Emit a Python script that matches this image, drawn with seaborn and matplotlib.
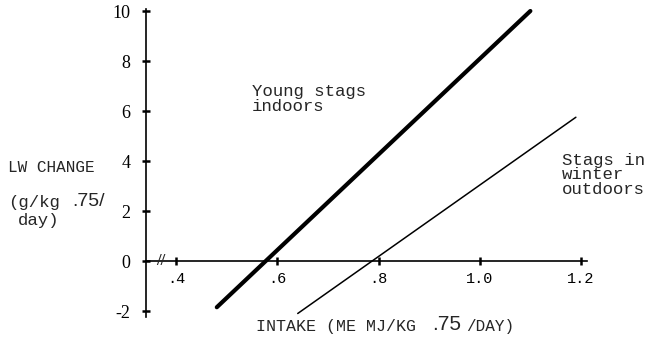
import matplotlib
matplotlib.use("Agg")
import matplotlib.pyplot as plt
import seaborn as sns
import pandas as pd

# line end points
young_intake = [0.48, 1.10]
young_lw = [-1.85, 10.0]
winter_intake = [0.64, 1.19]
winter_lw = [-2.1, 5.75]

x_ticks = [0.4, 0.6, 0.8, 1.0, 1.2]
x_tick_labels = ['.4', '.6', '.8', '1.0', '1.2']
y_ticks = [-2, 0, 2, 4, 6, 8, 10]

young = pd.DataFrame({'intake': young_intake, 'lw': young_lw})
winter = pd.DataFrame({'intake': winter_intake, 'lw': winter_lw})

sns.set_style('ticks')
plt.rcParams['font.family'] = ['Liberation Serif', 'DejaVu Serif']
MONO = ['Liberation Mono', 'DejaVu Sans Mono']
W, H = 646, 341


def px(x, y):
    # pixel position -> figure fraction
    return x / W, 1 - y / H


fig = plt.figure(figsize=(W / 100, H / 100), dpi=100)
ax = fig.add_axes([146 / W, 1 - 317 / H, 441 / W, 308 / H])

sns.lineplot(data=young, x='intake', y='lw', color='black', linewidth=3.0,
             solid_capstyle='round', ax=ax)
sns.lineplot(data=winter, x='intake', y='lw', color='black', linewidth=1.1, ax=ax)

ax.set_xlim(0.34, 1.212)
ax.set_ylim(-2.24, 10.08)
ax.spines['bottom'].set_position(('data', 0))
ax.spines['top'].set_visible(False)
ax.spines['right'].set_visible(False)
for s in ['left', 'bottom']:
    ax.spines[s].set_linewidth(1.2)
    ax.spines[s].set_color('black')

ax.set_xticks(x_ticks)
ax.set_xticklabels(x_tick_labels, fontfamily=MONO, fontsize=11)
ax.set_yticks(y_ticks)
ax.set_yticklabels([str(v) for v in y_ticks], fontsize=13)
ax.tick_params(axis='both', direction='inout', length=6, width=1.8, colors='black')
ax.tick_params(axis='y', pad=8)
ax.tick_params(axis='x', pad=5)
ax.set_xlabel('')
ax.set_ylabel('')

# axis break marks
ax.text(0.37, 0, '//', fontsize=12, fontweight='bold', ha='center', va='center')

# curve labels
fig.text(*px(252, 84), 'Young stags\nindoors', fontfamily=MONO, fontsize=12.5,
         ha='left', va='top', linespacing=1.0)
fig.text(*px(562, 153), 'Stags in\nwinter\noutdoors', fontfamily=MONO, fontsize=12.5,
         ha='left', va='top', linespacing=0.95)

# y axis label
fig.text(*px(8, 167), 'LW CHANGE', fontfamily=MONO, fontsize=11.5, ha='left', va='center')
fig.text(*px(8, 203), '(g/kg', fontfamily=MONO, fontsize=12.5, ha='left', va='center')
fig.text(*px(72, 201), '.75/', fontfamily='Liberation Sans', fontsize=14, ha='left', va='center')
fig.text(*px(18, 220), 'day)', fontfamily=MONO, fontsize=12.5, ha='left', va='center')

# x axis label
fig.text(*px(256, 327), 'INTAKE (ME MJ/KG', fontfamily=MONO, fontsize=12, ha='left', va='center')
fig.text(*px(432, 325), '.75', fontfamily='Liberation Sans', fontsize=15, ha='left', va='center')
fig.text(*px(466, 327), '/DAY)', fontfamily=MONO, fontsize=11.5, ha='left', va='center')

fig.savefig('out.png', dpi=100)
